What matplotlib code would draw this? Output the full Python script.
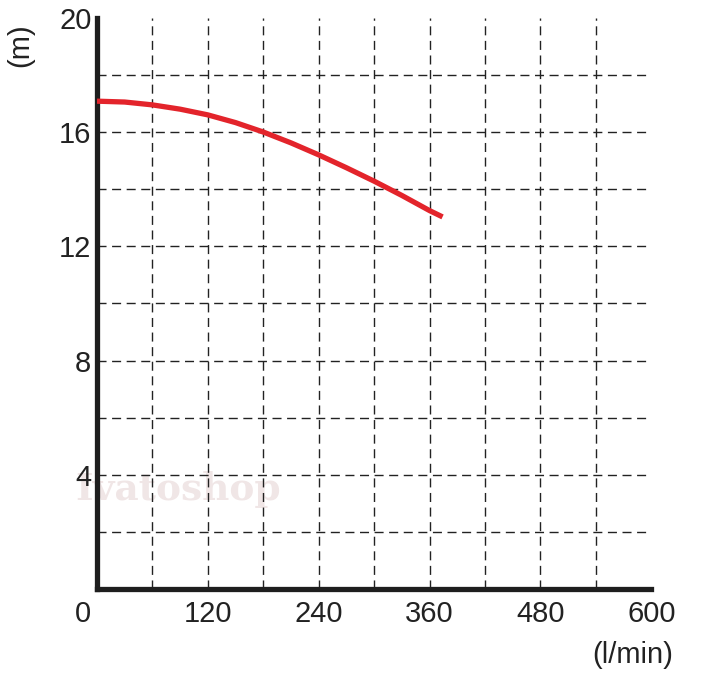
import matplotlib.pyplot as plt
import numpy as np

plt.rcParams['font.family'] = ['Liberation Sans', 'DejaVu Sans']

# pump curve
flow = [0, 30, 60, 90, 120, 150, 180, 210, 240, 270, 300, 330, 360, 374]
head = [17.08, 17.05, 16.95, 16.8, 16.6, 16.33, 16.0, 15.62, 15.2, 14.75, 14.28, 13.78, 13.25, 13.03]

xticks = [120, 240, 360, 480, 600]
yticks = [4, 8, 12, 16, 20]

fig = plt.figure(figsize=(7.08, 6.82), dpi=100)
ax = fig.add_axes([0.137, 0.136, 0.783, 0.838])
ax.patch.set_visible(False)
ax.set_xlim(0, 600)
ax.set_ylim(0, 20)

dash = (0, (6.5, 4))
for gx in np.arange(60, 600, 60):
    ax.axvline(gx, color='#222222', lw=1.0, ls=dash, zorder=1)
for gy in np.arange(2, 20, 2):
    ax.axhline(gy, color='#222222', lw=1.0, ls=dash, zorder=1)

ax.plot(flow, head, color='#e3242b', lw=3.8, solid_capstyle='butt', zorder=3)

ax.set_xticks(xticks)
ax.set_xticklabels([str(v) for v in xticks])
ax.set_yticks(yticks)
ax.set_yticklabels([str(v) for v in yticks])
ax.tick_params(length=0, labelsize=21, colors='#222222')
ax.tick_params(axis='x', pad=8)
ax.tick_params(axis='y', pad=4)

for s in ['top', 'right']:
    ax.spines[s].set_visible(False)
for s in ['left', 'bottom']:
    ax.spines[s].set_linewidth(3.8)
    ax.spines[s].set_color('#1e1e1e')

# origin label sits left of the axis
fig.text(83 / 708, 1 - 614 / 682, '0', ha='center', va='center',
         fontsize=21, color='#222222')
fig.text(20 / 708, 1 - 45 / 682, '(m)', rotation=90, ha='center', va='center',
         fontsize=21, color='#222222')
fig.text(633 / 708, 1 - 655 / 682, '(l/min)', ha='center', va='center',
         fontsize=21, color='#222222')
# faint watermark behind everything
fig.text(178 / 708, 1 - 489 / 682, 'Ivatoshop', ha='center', va='center',
         fontsize=27, fontweight='bold', family='DejaVu Serif', color='#f0e6e6', zorder=-1)

fig.savefig('out.png', dpi=100)
